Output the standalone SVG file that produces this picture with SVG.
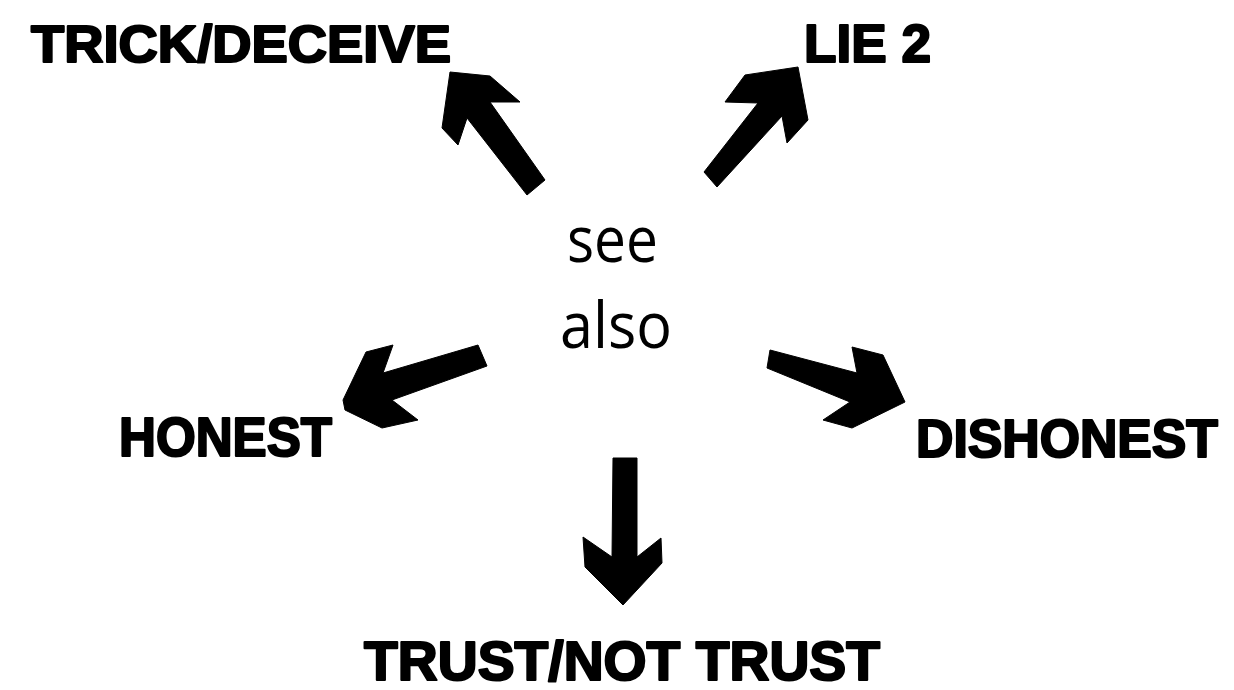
<svg xmlns="http://www.w3.org/2000/svg" width="1234" height="690" viewBox="0 0 1234 690">
  <style>
    .lbl { font-family: "Liberation Sans", Arial, sans-serif; font-weight: bold; fill: #000; stroke: #000; stroke-width: 2.2; stroke-linejoin: round; }
    .ctr { font-family: "Open Sans", "Liberation Sans", sans-serif; font-size: 64px; fill: #000; }
    .arrow { fill: #000; stroke: #000; stroke-width: 1; stroke-linejoin: round; }
  </style>
  <rect width="1234" height="690" fill="#fff"/>
  <g id="center">
    <text class="ctr" x="567" y="262" textLength="91" lengthAdjust="spacingAndGlyphs">see</text>
    <text class="ctr" x="560" y="348" textLength="112" lengthAdjust="spacingAndGlyphs">also</text>
  </g>
  <g id="node-trick">
    <text class="lbl" x="31" y="62" font-size="52" textLength="420" lengthAdjust="spacingAndGlyphs">TRICK/DECEIVE</text>
  </g>
  <g id="node-lie2">
    <text class="lbl" x="804" y="62" font-size="54" textLength="127" lengthAdjust="spacingAndGlyphs">LIE 2</text>
  </g>
  <g id="node-honest">
    <text class="lbl" x="119" y="456" font-size="55" textLength="213" lengthAdjust="spacingAndGlyphs">HONEST</text>
  </g>
  <g id="node-dishonest">
    <text class="lbl" x="916" y="457" font-size="54" textLength="302" lengthAdjust="spacingAndGlyphs">DISHONEST</text>
  </g>
  <g id="node-trust">
    <text class="lbl" x="364" y="680" font-size="55" textLength="516" lengthAdjust="spacingAndGlyphs">TRUST/NOT TRUST</text>
  </g>
  <g id="connectors">
    <polygon class="arrow" points="450,72 490,76 520,102 490,102 545,180 527,195 467,118 458,145 442,128"/>
    <polygon class="arrow" points="798,67 808,120 787,143 782,116 717,187 704,172 758,103 725,102 745,75"/>
    <polygon class="arrow" points="343,400 366,352 393,345 383,373 478,345 487,366 392,400 418,420 382,428 345,410"/>
    <polygon class="arrow" points="770,350 857,373 852,347 883,355 905,402 852,428 823,420 850,402 767,368"/>
    <polygon class="arrow" points="613,458 637,458 637,557 661,538 662,563 623,605 585,567 583,537 612,557"/>
  </g>
</svg>
